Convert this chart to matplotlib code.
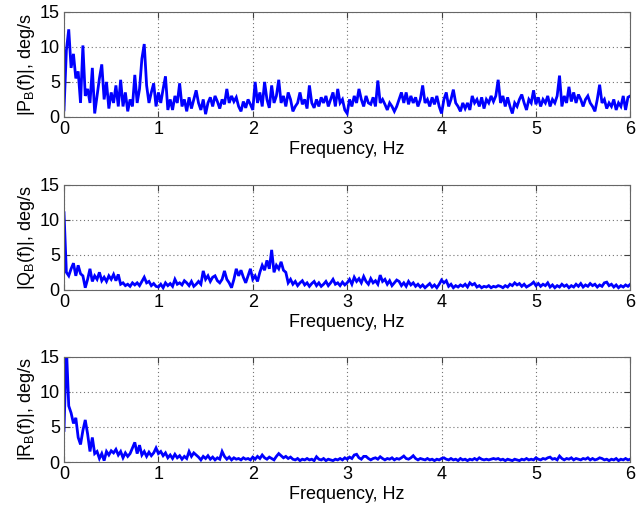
import numpy as np
import matplotlib
matplotlib.use("Agg")
import matplotlib.pyplot as plt

plt.rcParams['font.family'] = ['Liberation Sans', 'DejaVu Sans']
plt.rcParams['mathtext.fontset'] = 'custom'
plt.rcParams['mathtext.rm'] = 'Liberation Sans'
plt.rcParams['mathtext.it'] = 'Liberation Sans:italic'

# Frequency grid (Hz), 0.025 Hz spacing
freq = np.linspace(0.0, 6.0, 241)

# Roll-rate spectrum magnitude |P_B(f)|, deg/s
p_mag = [
    1.0, 9.5, 12.5, 7.0, 9.0, 5.5, 6.5, 2.0, 10.2, 3.0,
    4.0, 2.0, 7.0, 0.5, 3.0, 5.5, 7.5, 2.5, 5.0, 1.2,
    3.5, 2.0, 4.5, 1.5, 5.3, 1.5, 3.5, 0.8, 2.5, 1.5,
    6.0, 2.0, 4.0, 8.3, 10.4, 4.5, 2.0, 3.5, 4.8, 1.5,
    3.5, 2.0, 4.0, 5.8, 1.0, 2.5, 1.0, 3.0, 2.0, 4.8,
    1.5, 2.5, 0.8, 2.8, 1.2, 2.5, 3.8, 2.0, 1.0, 2.5,
    0.4, 2.0, 2.8, 1.5, 3.0, 2.2, 1.2, 2.5, 1.8, 4.0,
    2.0, 3.0, 2.2, 2.8, 1.5, 0.8, 2.2, 1.3, 2.5, 1.8,
    1.0, 5.0, 2.0, 3.5, 1.5, 5.0, 2.5, 1.3, 4.5, 2.0,
    3.0, 5.3, 2.0, 3.0, 1.5, 3.5, 2.5, 0.8, 1.5, 2.0,
    3.5, 1.8, 2.5, 1.2, 4.5, 2.0, 1.3, 2.5, 1.5, 2.8,
    2.0, 3.0, 1.5, 2.5, 3.5, 1.5, 4.0, 2.0, 2.5, 1.0,
    0.5, 2.5, 1.5, 3.0, 2.0, 4.0, 2.5, 1.5, 3.0, 2.0,
    1.8, 2.8, 1.5, 5.2, 2.0, 2.5, 1.8, 1.0, 2.0, 1.5,
    0.8, 1.5, 2.5, 3.5, 2.0, 3.5, 1.8, 3.0, 2.0, 2.8,
    1.5, 2.5, 4.5, 2.0, 2.5, 1.5, 2.8, 1.8, 3.0, 1.5,
    0.5, 2.5, 3.5, 1.5, 2.5, 3.9, 2.0, 1.5, 0.8, 2.0,
    1.2, 2.0, 1.0, 3.0, 2.0, 2.5, 1.5, 2.8, 1.2, 2.5,
    2.0, 3.0, 2.2, 3.0, 5.3, 2.0, 3.0, 1.5, 2.8, 1.5,
    0.5, 2.0, 1.5, 2.5, 3.2, 2.0, 1.0, 2.5, 2.0, 3.8,
    1.8, 2.8, 1.5, 2.5, 2.0, 3.0, 1.5, 2.5, 2.0, 3.0,
    5.9, 1.5, 3.0, 2.0, 4.3, 2.2, 3.5, 2.0, 3.2, 2.5,
    1.5, 2.5, 3.0, 2.0, 1.5, 0.8, 2.5, 4.6, 2.0, 2.5,
    1.2, 2.0, 1.5, 2.5, 1.0, 2.0, 1.5, 3.0, 1.0, 2.8,
    3.0,
]

# Pitch-rate spectrum magnitude |Q_B(f)|, deg/s
q_mag = [
    11.0, 2.5, 2.0, 3.0, 3.8, 2.0, 3.5, 2.3, 2.0, 0.3,
    1.5, 3.0, 1.2, 2.0, 1.5, 2.5, 1.3, 1.8, 1.2, 2.0,
    1.5, 2.2, 1.3, 2.2, 0.8, 1.0, 0.6, 0.8, 0.5, 1.0,
    0.7, 1.0, 0.6, 1.2, 1.8, 1.0, 1.2, 0.6, 0.9, 0.5,
    0.4, 0.8, 0.3, 1.0, 0.6, 0.9, 0.5, 1.5, 0.8, 1.0,
    0.7, 1.3, 1.0, 0.6, 1.2, 0.5, 0.8, 1.2, 0.8, 2.7,
    1.5, 2.0, 1.2, 1.8, 2.0, 1.3, 1.0, 1.5, 2.7, 1.5,
    1.0, 0.3, 1.5, 3.0, 2.0, 2.8, 1.8, 1.0, 2.0, 3.0,
    1.5, 2.0, 1.2, 2.5, 3.5, 2.8, 4.2, 3.0, 5.7, 2.5,
    3.5, 3.0, 4.0, 2.8, 2.5, 1.0, 1.5, 0.8, 1.2, 0.6,
    1.0, 1.3, 0.7, 1.0, 0.5, 0.9, 1.2, 0.6, 1.0, 0.5,
    0.8, 1.2, 0.6, 1.0, 1.5, 0.8, 1.0, 0.6, 1.1, 0.7,
    1.0, 1.5, 0.8, 1.8, 1.2, 1.6, 1.0, 1.9, 1.2, 0.8,
    1.6, 1.0, 1.3, 0.8, 2.1, 1.2, 1.5, 0.8, 1.3, 0.6,
    1.0, 1.4, 1.2, 0.6, 1.0, 0.5, 1.2, 0.7, 1.0, 0.5,
    0.8, 0.4, 0.7, 0.3, 0.6, 0.9, 0.4, 0.7, 0.3, 0.8,
    1.4, 1.0, 1.3, 0.5, 0.8, 0.3, 0.6, 0.4, 0.7, 0.5,
    0.8, 0.4, 1.0, 0.7, 0.9, 0.4, 0.6, 0.3, 0.5, 0.4,
    0.6, 0.3, 0.5, 0.4, 0.6, 0.5, 0.3, 0.6, 0.4, 0.8,
    0.6, 1.0, 0.7, 0.9, 0.5, 0.8, 0.4, 0.6, 0.8, 1.1,
    0.6, 0.9, 0.5, 0.8, 0.6, 1.0, 0.4, 0.7, 0.3, 0.6,
    0.4, 0.8, 0.5, 0.7, 0.3, 0.6, 0.4, 0.8, 0.5, 0.9,
    0.4, 0.7, 0.5, 0.9, 0.6, 0.8, 0.4, 0.7, 0.5, 1.0,
    1.1, 0.6, 0.8, 0.4, 0.7, 0.3, 0.6, 0.4, 0.7, 0.5,
    0.8,
]

# Yaw-rate spectrum magnitude |R_B(f)|, deg/s
r_mag = [
    4.5, 16.5, 8.0, 7.0, 5.5, 6.3, 3.5, 2.5, 4.5, 6.0,
    4.0, 1.5, 3.5, 1.2, 1.5, 0.5, 1.2, 0.2, 1.5, 1.0,
    1.6, 1.3, 1.8, 1.0, 1.5, 0.6, 1.3, 0.8, 1.2, 2.0,
    2.8, 1.2, 2.4, 1.0, 1.5, 0.8, 1.4, 0.9, 1.3, 2.0,
    1.2, 1.5, 0.9, 1.3, 0.6, 1.0, 0.5, 1.1, 0.6, 0.9,
    0.4, 0.8, 0.5, 1.5, 0.8, 1.3, 1.0, 0.7, 0.3, 0.8,
    0.5, 0.9, 0.4, 0.7, 0.3, 0.6, 0.4, 1.5, 0.8, 0.4,
    0.7, 0.3, 0.6, 0.4, 0.5, 0.3, 0.6, 0.4, 0.5, 0.3,
    0.7, 0.4, 0.8, 0.5, 1.0, 0.6, 0.4, 0.7, 0.5, 0.3,
    0.8, 1.2, 0.9, 0.6, 0.8, 0.5, 0.7, 0.4, 0.3, 0.5,
    0.2, 0.4, 0.3, 0.5, 0.3, 0.4, 0.2, 0.75, 0.4, 0.3,
    0.5, 0.2, 0.4, 0.3, 0.2, 0.4, 0.3, 0.5, 0.3, 0.6,
    0.4, 0.7, 0.5, 1.0, 1.1, 0.6, 0.4, 0.8, 0.8, 0.5,
    0.3, 0.5, 0.6, 0.4, 0.75, 0.5, 0.3, 0.5, 0.4, 0.6,
    0.3, 0.5, 0.4, 0.6, 0.85, 0.5, 0.4, 0.6, 0.9, 0.5,
    0.3, 0.5, 0.4, 0.3, 0.5, 0.3, 0.4, 0.2, 0.4, 0.3,
    0.5, 0.6, 0.4, 0.3, 0.5, 0.3, 0.4, 0.2, 0.5, 0.3,
    0.4, 0.2, 0.4, 0.3, 0.5, 0.3, 0.6, 0.4, 0.3, 0.4,
    0.3, 0.4, 0.5, 0.4, 0.5, 0.3, 0.4, 0.2, 0.4, 0.3,
    0.2, 0.4, 0.3, 0.2, 0.4, 0.3, 0.5, 0.3, 0.4, 0.3,
    0.6, 0.4, 0.3, 0.5, 0.4, 0.6, 0.7, 0.4, 0.5, 0.3,
    0.85, 0.5, 0.3, 0.5, 0.4, 0.6, 0.3, 0.5, 0.4, 0.3,
    0.5, 0.4, 0.6, 0.3, 0.5, 0.3, 0.4, 0.6, 0.5, 0.3,
    0.4, 0.2, 0.4, 0.3, 0.5, 0.2, 0.4, 0.3, 0.5, 0.3,
    0.4,
]

ylabels = [r'|P$_\mathrm{B}$(f)|, deg/s',
           r'|Q$_\mathrm{B}$(f)|, deg/s',
           r'|R$_\mathrm{B}$(f)|, deg/s']
series = [p_mag, q_mag, r_mag]
xticks = [0, 1, 2, 3, 4, 5, 6]
yticks = [0, 5, 10, 15]

fig = plt.figure(figsize=(6.37, 5.13), dpi=100)
bottoms = [0.772, 0.435, 0.0994]
for b, vals, lab in zip(bottoms, series, ylabels):
    ax = fig.add_axes([0.1005, b, 0.889, 0.205])
    ax.plot(freq, vals, color=(0, 0, 1), linewidth=2.0,
            solid_joinstyle='miter')
    ax.set_xlim(0, 6)
    ax.set_ylim(0, 15)
    ax.set_xticks(xticks)
    ax.set_yticks(yticks)
    ax.grid(True, color='0.45', linestyle=(0, (1, 2.5)), linewidth=0.8)
    ax.tick_params(direction='in', top=True, right=True, length=4,
                   width=0.8, labelsize=13, colors='0.25', labelcolor='black',
                   pad=3)
    for s in ax.spines.values():
        s.set_color('0.4')
        s.set_linewidth(0.8)
    ax.set_xlabel('Frequency, Hz', fontsize=13, labelpad=2)
    ax.set_ylabel(lab, fontsize=13, labelpad=2)

fig.savefig('out.png', dpi=100)
